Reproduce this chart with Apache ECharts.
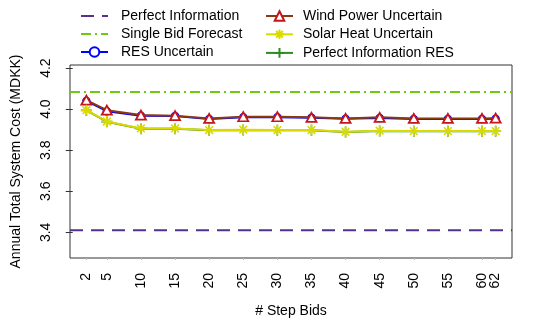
<!DOCTYPE html>
<html>
<head>
<meta charset="utf-8">
<script src="https://cdn.jsdelivr.net/npm/echarts@6/dist/echarts.min.js"></script>
<style>html,body{margin:0;padding:0;background:#fff}#c{width:550px;height:327px}</style>
</head>
<body>
<div id="c"></div>
<script>
// ---- data ----
var steps = [2, 5, 10, 15, 20, 25, 30, 35, 40, 45, 50, 55, 60, 62];
var xTickLabels = [2, 5, 10, 15, 20, 25, 30, 35, 40, 45, 50, 55, 60, 62];
var yTickLabels = [3.4, 3.6, 3.8, 4.0, 4.2];
var perfectInformation = 3.41;
var singleBidForecast = 4.083;
var resUncertain     = [4.040, 3.990, 3.968, 3.966, 3.952, 3.960, 3.961, 3.958, 3.953, 3.957, 3.952, 3.952, 3.952, 3.953];
var windUncertain    = [4.044, 3.995, 3.971, 3.968, 3.955, 3.963, 3.963, 3.960, 3.955, 3.960, 3.955, 3.955, 3.955, 3.956];
var solarUncertain   = [3.995, 3.940, 3.906, 3.906, 3.898, 3.900, 3.898, 3.898, 3.890, 3.895, 3.893, 3.893, 3.893, 3.893];
var perfectInfoRES   = [3.994, 3.939, 3.905, 3.905, 3.897, 3.899, 3.897, 3.897, 3.889, 3.894, 3.892, 3.892, 3.892, 3.892];

var xMin = -0.4, xMax = 64.4, yMin = 3.275, yMax = 4.215;

function pairs(xs, ys) { return xs.map(function (x, i) { return [x, ys[i]]; }); }
function hline(v) { return [[xMin, v], [xMax, v]]; }

var FONT = 'Liberation Sans, Arial, sans-serif';
var FS = 14;
var starPath = 'path://M0,5L10,5M5,0L5,10M1.5,1.5L8.5,8.5M8.5,1.5L1.5,8.5';
var plusPath = 'path://M0,5L10,5M5,0L5,10';

// the last two ticks (60, 62) sit close together; put the last one on a twin axis so both show
var xTicksMain = xTickLabels.slice(0, -1);
var xTicksLast = xTickLabels.slice(-1);

function xAxisBase(ticks, withName) {
  return {
    type: 'value', min: xMin, max: xMax, position: 'bottom', offset: 0,
    name: withName ? '# Step Bids' : '', nameLocation: 'middle', nameGap: 46,
    nameTextStyle: {fontFamily: FONT, fontSize: FS, color: '#000'},
    axisLine: {show: false},
    splitLine: {show: false},
    axisTick: {show: true, length: 2, lineStyle: {color: '#bbb'}, customValues: ticks},
    axisLabel: {rotate: 90, margin: 15, fontFamily: FONT, fontSize: FS, color: '#000', customValues: ticks,
      hideOverlap: false}
  };
}

var chart = echarts.init(document.getElementById('c'), null, {renderer: 'canvas'});
chart.setOption({
  animation: false,
  textStyle: {fontFamily: FONT},
  grid: {left: 70, right: 38, top: 65, bottom: 69, show: true, borderColor: '#333', borderWidth: 1, backgroundColor: 'transparent'},
  legend: [
    {
      orient: 'vertical', left: 80, top: 9, padding: 0, itemWidth: 27, itemHeight: 12, itemGap: 4,
      textStyle: {fontFamily: FONT, fontSize: FS, color: '#000', padding: [0, 0, 0, 8]},
      data: ['Perfect Information', 'Single Bid Forecast', 'RES Uncertain']
    },
    {
      orient: 'vertical', left: 265, top: 9, padding: 0, itemWidth: 27, itemHeight: 12, itemGap: 4,
      textStyle: {fontFamily: FONT, fontSize: FS, color: '#000', padding: [0, 0, 0, 5]},
      data: ['Wind Power Uncertain', 'Solar Heat Uncertain', 'Perfect Information RES']
    }
  ],
  xAxis: [xAxisBase(xTicksMain, true), xAxisBase(xTicksLast, false)],
  yAxis: {
    type: 'value', min: yMin, max: yMax,
    name: 'Annual Total System Cost (MDKK)', nameLocation: 'middle', nameGap: 47,
    nameTextStyle: {fontFamily: FONT, fontSize: FS, color: '#000'},
    axisLine: {show: false},
    splitLine: {show: false},
    axisTick: {show: true, length: 7, lineStyle: {color: '#333'}, customValues: yTickLabels},
    axisLabel: {rotate: 90, margin: 17, fontFamily: FONT, fontSize: FS, color: '#000', customValues: yTickLabels,
      hideOverlap: false, formatter: function (v) { return v.toFixed(1); }}
  },
  series: [
    {
      name: 'Perfect Information', type: 'line', data: hline(perfectInformation), symbol: 'none',
      color: '#54308f', lineStyle: {color: '#54308f', width: 2, type: [13, 8]},
      itemStyle: {color: 'transparent', borderColor: 'transparent', borderWidth: 0}, z: 2
    },
    {
      name: 'Single Bid Forecast', type: 'line', data: hline(singleBidForecast), symbol: 'none',
      color: '#6fc90e', lineStyle: {color: '#6fc90e', width: 2, type: [10, 4, 2, 4]},
      itemStyle: {color: 'transparent', borderColor: 'transparent', borderWidth: 0}, z: 2
    },
    {
      name: 'RES Uncertain', type: 'line', data: pairs(steps, resUncertain),
      symbol: 'circle', symbolSize: 7, color: '#0000ff',
      lineStyle: {color: '#0000ff', width: 2},
      itemStyle: {color: '#fff', borderColor: '#0000ff', borderWidth: 1.5}, z: 3
    },
    {
      name: 'Wind Power Uncertain', type: 'line', data: pairs(steps, windUncertain),
      symbol: 'triangle', symbolSize: [10, 9], color: '#8b3a10',
      lineStyle: {color: '#8b3a10', width: 2},
      itemStyle: {color: '#fff', borderColor: '#c4161c', borderWidth: 1.8}, z: 4
    },
    {
      name: 'Perfect Information RES', type: 'line', data: pairs(steps, perfectInfoRES),
      symbol: plusPath, symbolSize: 11, color: '#2e8b22',
      lineStyle: {color: '#2e8b22', width: 2},
      itemStyle: {color: 'none', borderColor: '#2e8b22', borderWidth: 1.6}, z: 5
    },
    {
      name: 'Solar Heat Uncertain', type: 'line', data: pairs(steps, solarUncertain),
      symbol: starPath, symbolSize: 11, color: '#dada00',
      lineStyle: {color: '#dada00', width: 2},
      itemStyle: {color: 'none', borderColor: '#dada00', borderWidth: 1.6}, z: 6
    }
  ]
});
</script>
</body>
</html>
